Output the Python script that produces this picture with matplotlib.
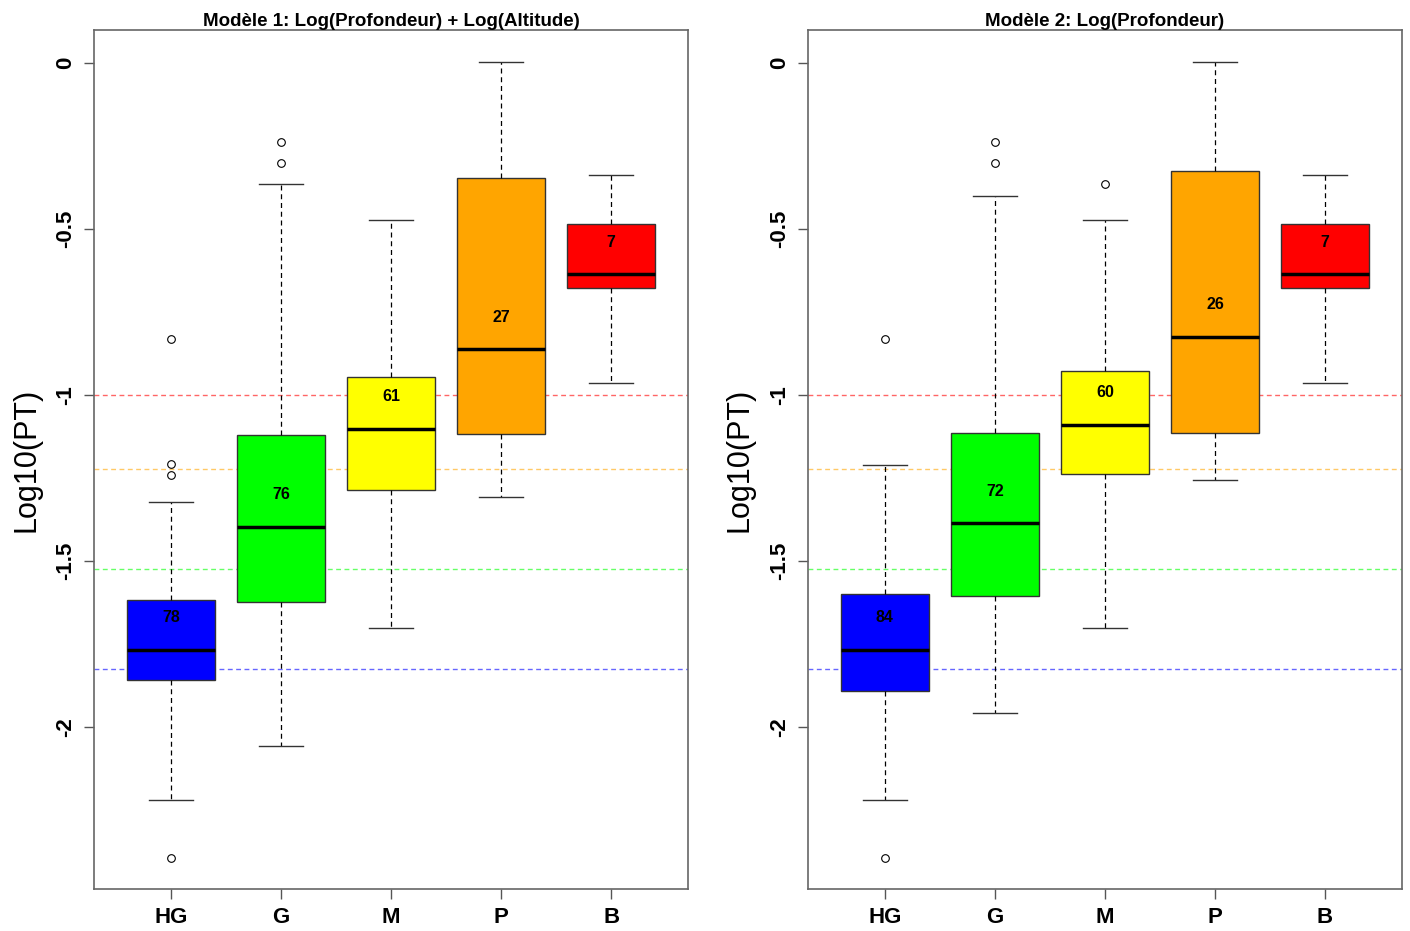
import matplotlib.pyplot as plt

plt.rcParams['font.family'] = ['Liberation Sans', 'DejaVu Sans']

classes = ['HG', 'G', 'M', 'P', 'B']
couleurs = ['#0000FF', '#00FF00', '#FFFF00', '#FFA500', '#FF0000']

# seuils (log10) : 0.1, 0.06, 0.03, 0.015
seuils = [-1.0, -1.222, -1.523, -1.824]
couleurs_seuils = ['#FF0000', '#FFA500', '#00FF00', '#0000FF']

# Modele 1
m1_whislo = [-2.220, -2.057, -1.702, -1.307, -0.964]
m1_q1 = [-1.858, -1.623, -1.286, -1.117, -0.678]
m1_med = [-1.768, -1.398, -1.102, -0.861, -0.636]
m1_q3 = [-1.617, -1.120, -0.946, -0.346, -0.485]
m1_whishi = [-1.322, -0.364, -0.473, 0.003, -0.337]
m1_fliers = [[-0.831, -1.208, -1.241, -2.395], [-0.238, -0.301], [], [], []]
m1_n = [78, 76, 61, 27, 7]
m1_moy = [-1.669, -1.301, -1.006, -0.768, -0.542]

# Modele 2
m2_whislo = [-2.220, -1.958, -1.702, -1.256, -0.964]
m2_q1 = [-1.892, -1.605, -1.238, -1.114, -0.678]
m2_med = [-1.768, -1.386, -1.090, -0.825, -0.636]
m2_q3 = [-1.599, -1.114, -0.928, -0.325, -0.485]
m2_whishi = [-1.211, -0.401, -0.473, 0.003, -0.337]
m2_fliers = [[-0.831, -2.395], [-0.238, -0.301], [-0.364], [], []]
m2_n = [84, 72, 60, 26, 7]
m2_moy = [-1.669, -1.292, -0.994, -0.729, -0.542]


def panneau(ax, titre, wlo, q1, med, q3, whi, fl, n, moy):
    stats = []
    for i in range(len(classes)):
        stats.append(dict(whislo=wlo[i], q1=q1[i], med=med[i], q3=q3[i],
                          whishi=whi[i], fliers=fl[i]))
    for s, c in zip(seuils, couleurs_seuils):
        ax.axhline(s, color=c, ls=(0, (3.5, 2.5)), lw=1, alpha=0.6, zorder=1)
    bp = ax.bxp(stats, positions=range(1, 6), widths=0.8, capwidths=0.4,
                patch_artist=True,
                boxprops=dict(edgecolor='#333333', lw=1),
                medianprops=dict(color='black', lw=2.5),
                whiskerprops=dict(color='black', ls=(0, (4, 3)), lw=0.9),
                capprops=dict(color='#333333', lw=1),
                flierprops=dict(marker='o', markerfacecolor='none',
                                markeredgecolor='black', markersize=5.5,
                                markeredgewidth=0.8))
    for p, c in zip(bp['boxes'], couleurs):
        p.set_facecolor(c)
        p.set_zorder(2)
    for i in range(len(classes)):
        ax.text(i + 1, moy[i], str(n[i]), ha='center', va='center',
                fontsize=11.5, fontweight='bold', zorder=5)
    ax.set_xlim(0.3, 5.7)
    ax.set_ylim(-2.488, 0.099)
    ax.set_xticks(range(1, 6))
    ax.set_xticklabels(classes, fontsize=16, fontweight='bold')
    ax.set_yticks([0, -0.5, -1, -1.5, -2])
    ax.set_yticklabels(['0', '-0.5', '-1', '-1.5', '-2'], rotation=90,
                       va='center', fontsize=16, fontweight='bold')
    ax.tick_params(length=7, width=1, color='#555555', pad=6)
    for sp in ax.spines.values():
        sp.set_color('#666666')
        sp.set_linewidth(1.2)
    ax.set_title(titre, fontsize=13.5, fontweight='bold', pad=3)
    ax.set_ylabel('Log10(PT)', fontsize=22, labelpad=10)


fig = plt.figure(figsize=(14.1, 9.31), dpi=100)
ax1 = fig.add_axes([0.0667, 0.0451, 0.4213, 0.9227])
ax2 = fig.add_axes([0.5730, 0.0451, 0.4213, 0.9227])

panneau(ax1, 'Modèle 1: Log(Profondeur) + Log(Altitude)',
        m1_whislo, m1_q1, m1_med, m1_q3, m1_whishi, m1_fliers, m1_n, m1_moy)
panneau(ax2, 'Modèle 2: Log(Profondeur)',
        m2_whislo, m2_q1, m2_med, m2_q3, m2_whishi, m2_fliers, m2_n, m2_moy)

fig.savefig('out.png', dpi=100)
